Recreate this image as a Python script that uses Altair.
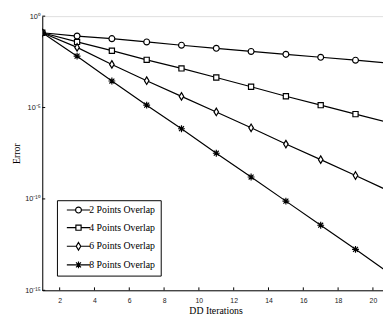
import altair as alt
import pandas as pd

iterations = [1, 3, 5, 7, 9, 11, 13, 15, 17, 19, 21]
series_names = ["2 Points Overlap", "4 Points Overlap", "6 Points Overlap", "8 Points Overlap"]
err_2 = [0.123, 0.0813, 0.0589, 0.0389, 0.0257, 0.0174, 0.01175, 0.00813, 0.00562, 0.00389, 0.00263]
err_4 = [0.123, 0.0389, 0.0129, 4.07e-3, 1.38e-3, 4.37e-4, 1.38e-4, 4.17e-5, 1.35e-5, 4.37e-6, 1.41e-6]
err_6 = [0.123, 0.0195, 2.29e-3, 2.95e-4, 4.07e-5, 5.75e-6, 7.76e-7, 1.0e-7, 1.41e-8, 1.91e-9, 2.51e-10]
err_8 = [0.123, 6.46e-3, 2.82e-4, 1.35e-5, 6.92e-7, 3.16e-8, 1.58e-9, 7.59e-11, 3.63e-12, 1.74e-13, 7.94e-15]

x_ticks = [2, 4, 6, 8, 10, 12, 14, 16, 18, 20]
y_ticks = [1, 1e-5, 1e-10, 1e-15]
y_tick_labels = ["10⁰", "10⁻⁵", "10⁻¹⁰", "10⁻¹⁵"]

marker_paths = [
    "M-0.86,0A0.86,0.86 0 1,1 0.86,0A0.86,0.86 0 1,1 -0.86,0Z",
    "M-0.76,-0.76L0.76,-0.76L0.76,0.76L-0.76,0.76Z",
    "M0,-1.1L0.67,0L0,1.1L-0.67,0Z",
    "M-1,0L1,0M0,-1L0,1M-0.72,-0.72L0.72,0.72M-0.72,0.72L0.72,-0.72",
]
legend_paths = [
    "M-3.4,0L-0.86,0M0.86,0L3.4,0M-0.86,0A0.86,0.86 0 1,1 0.86,0A0.86,0.86 0 1,1 -0.86,0Z",
    "M-3.4,0L-0.76,0M0.76,0L3.4,0M-0.76,-0.76L0.76,-0.76L0.76,0.76L-0.76,0.76Z",
    "M-3.4,0L-0.67,0M0.67,0L3.4,0M0,-1.1L0.67,0L0,1.1L-0.67,0Z",
    "M-3.4,0L3.4,0M0,-1L0,1M-0.72,-0.72L0.72,0.72M-0.72,0.72L0.72,-0.72",
]

rows = []
for name, vals in zip(series_names, [err_2, err_4, err_6, err_8]):
    for it, v in zip(iterations, vals):
        rows.append({"it": it, "err": v, "series": name, "series_leg": name})
df = pd.DataFrame(rows)

label_expr = " : ".join(
    f"datum.value < {v * 1.5:g} && datum.value > {v / 1.5:g} ? '{lab}'" for v, lab in zip(y_ticks, y_tick_labels)
) + " : ''"

W, H = 348, 280
xscale = alt.Scale(domain=[1, 20.58], nice=False, zero=False)
yscale = alt.Scale(type="log", domain=[1e-15, 1], nice=False)

x_axis = alt.Axis(
    values=x_ticks, title="DD Iterations", tickSize=0, labelPadding=6, labelOverlap=False,
    labelFont="Liberation Sans", labelFontSize=7, labelColor="#222",
    titleFont="Liberation Serif", titleFontSize=10, titleFontWeight="normal",
    titleColor="black", titlePadding=3, titleX=177, domainColor="black", grid=False)
y_axis = alt.Axis(
    values=y_ticks, labelExpr=label_expr, title="Error", tickSize=0, labelPadding=2,
    labelFont="Liberation Sans", labelFontSize=7.5, labelColor="#222", labelOverlap=False,
    titleFont="Liberation Serif", titleFontSize=10, titleFontWeight="normal",
    titleColor="black", titlePadding=2, domainColor="black", grid=False)

x_enc = alt.X("it:Q", scale=xscale, axis=x_axis)
y_enc = alt.Y("err:Q", scale=yscale, axis=y_axis)

lines = alt.Chart(df).mark_line(color="black", strokeWidth=1.2, clip=True).encode(
    x=x_enc, y=y_enc, detail="series:N")

points = alt.Chart(df).mark_point(filled=True, fill="white", stroke="black", strokeWidth=1.2,
                                  size=49, opacity=1, clip=True).encode(
    x=x_enc, y=y_enc,
    shape=alt.Shape("series:N", scale=alt.Scale(domain=series_names, range=marker_paths), legend=None))

legend_layer = alt.Chart(df).mark_point(filled=False, color="black", strokeWidth=1.2,
                                        size=0, clip=True).encode(
    x=x_enc, y=y_enc,
    shape=alt.Shape("series_leg:N", scale=alt.Scale(domain=series_names, range=legend_paths),
                    legend=alt.Legend(title=None, orient="none", legendX=15, legendY=188,
                                      strokeColor="black", fillColor="white", padding=5,
                                      symbolSize=49, symbolStrokeColor="black",
                                      symbolStrokeWidth=1.2, symbolOpacity=1, symbolOffset=12,
                                      labelOffset=6, labelFont="Liberation Serif", labelFontSize=10,
                                      labelColor="black", rowPadding=6, cornerRadius=0)))

tick_df_x = pd.DataFrame({"it": x_ticks})
tick_df_y = pd.DataFrame({"err": y_ticks})
xt = alt.Chart(tick_df_x).mark_rule(color="black", strokeWidth=1).encode(
    x=x_enc, y=alt.value(H), y2=alt.value(H - 3))
yt = alt.Chart(tick_df_y).mark_rule(color="black", strokeWidth=1).encode(
    y=y_enc, x=alt.value(0), x2=alt.value(3))

chart = alt.layer(lines, points, legend_layer, xt, yt).resolve_scale(shape="independent").properties(
    width=W, height=H, autosize=alt.AutoSizeParams(type="none"),
    padding={"left": 35, "top": 5, "right": 0, "bottom": 27}
).configure_view(stroke=None).configure(background="white")

chart.save("out.html", embed_options={"renderer": "svg", "actions": False})
